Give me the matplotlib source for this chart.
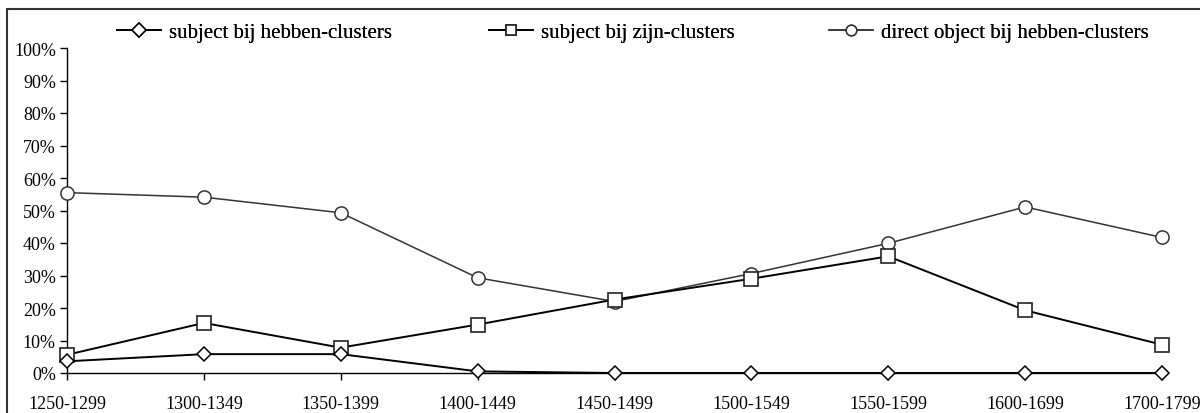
import matplotlib
matplotlib.use("Agg")
import matplotlib.pyplot as plt
from matplotlib.patches import Rectangle

periods = ["1250-1299", "1300-1349", "1350-1399", "1400-1449", "1450-1499",
           "1500-1549", "1550-1599", "1600-1699", "1700-1799"]
subj_hebben = [3.6, 5.8, 5.8, 0.5, 0.0, 0.0, 0.0, 0.0, 0.0]
subj_zijn = [5.6, 15.4, 7.8, 14.9, 22.6, 29.0, 35.9, 19.3, 8.7]
dobj_hebben = [55.5, 54.1, 49.3, 29.3, 22.0, 30.6, 39.9, 51.1, 41.7]
labels = ["subject bij hebben-clusters", "subject bij zijn-clusters",
          "direct object bij hebben-clusters"]
yticks = list(range(0, 101, 10))

plt.rcParams['font.family'] = ['Liberation Serif', 'DejaVu Serif']
plt.rcParams['font.size'] = 13

W, H = 1200, 414
fig = plt.figure(figsize=(W / 100, H / 100), dpi=100)
ax = fig.add_axes([67 / W, 1 - 374 / H, (1162 - 67) / W, (374 - 49) / H])

x = list(range(len(periods)))
l3, = ax.plot(x, dobj_hebben, color='#333333', lw=1.1, marker='o', ms=9.5,
              mfc='white', mec='#333333', mew=1.1, clip_on=False, zorder=3)
l2, = ax.plot(x, subj_zijn, color='black', lw=1.4, marker='s', ms=9.5,
              mfc='white', mec='#222222', mew=1.2, clip_on=False, zorder=4)
l1, = ax.plot(x, subj_hebben, color='black', lw=1.4, marker='D', ms=7.5,
              mfc='white', mec='black', mew=1.1, clip_on=False, zorder=5)

ax.set_xlim(0, len(periods) - 1)
ax.set_ylim(0, 100)
ax.set_xticks(x)
ax.set_xticklabels(periods, fontsize=13)
ax.set_yticks(yticks)
ax.set_yticklabels([f"{v}%" for v in yticks], fontsize=13)
for s in ['top', 'right']:
    ax.spines[s].set_visible(False)
for s in ['left', 'bottom']:
    ax.spines[s].set_linewidth(1.0)
    ax.spines[s].set_color('black')
ax.tick_params(axis='both', direction='out', length=5, width=1.0, color='black')
ax.tick_params(axis='y', pad=3)
ax.tick_params(axis='x', pad=11)

# legends placed individually
handles = [l1, l2, l3]
lstarts = [117, 489, 829]
scales = [0.9, 0.8, 0.8]
for h, lab, xs, sc in zip(handles, labels, lstarts, scales):
    leg = fig.legend([h], [lab], loc='center left',
                     bbox_to_anchor=(xs / W, 1 - 33 / H),
                     frameon=False, fontsize=15, handlelength=2.1,
                     handletextpad=0.38, borderaxespad=0, borderpad=0,
                     markerscale=sc)
    fig.add_artist(leg)

# figure border
fig.add_artist(Rectangle((7 / W, -0.05), 1.1, 1 - 10 / H + 0.05,
                         transform=fig.transFigure, fill=False,
                         edgecolor='#333333', lw=1.5))

fig.savefig("out.png", dpi=100)
